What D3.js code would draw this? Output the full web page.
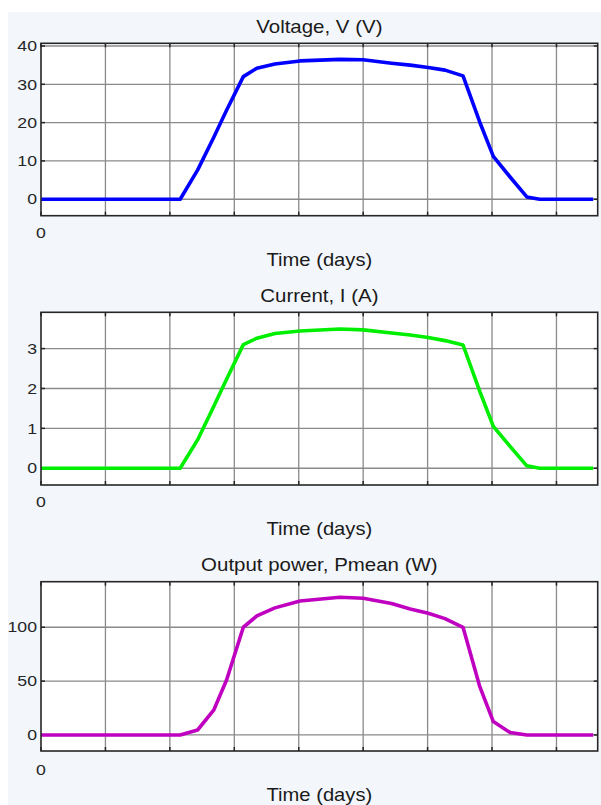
<!DOCTYPE html>
<html>
<head>
<meta charset="utf-8">
<script src="https://cdn.jsdelivr.net/npm/d3@7"></script>
<style>
  html, body { margin: 0; padding: 0; background: #ffffff; }
  svg { display: block; font-family: "Liberation Sans", Arial, sans-serif; }
</style>
</head>
<body>
<svg id="chart" width="601" height="805"></svg>
<script>
'use strict';

// time in seconds over one day
var timeSec = [0, 21600, 24300, 26800, 28800, 31400, 33500, 36300, 40200, 46400, 50000,
               54400, 57300, 60100, 62700, 65500, 68100, 70200, 72800, 75400, 77400, 85700];

var voltage = [0, 0, 7.6, 16.1, 23.2, 32, 34.2, 35.3, 36.1, 36.5, 36.4,
               35.5, 35.0, 34.4, 33.7, 32.2, 20.1, 11.2, 5.8, 0.6, 0, 0];

var current = [0, 0, 0.71, 1.55, 2.23, 3.1, 3.26, 3.38, 3.44, 3.49, 3.47,
               3.39, 3.34, 3.28, 3.2, 3.09, 1.93, 1.05, 0.55, 0.06, 0, 0];

var power = [0, 0, 4.6, 23, 51, 100, 110.5, 118, 124.4, 127.8, 126.9,
             122, 117, 113, 108, 100, 44.8, 12.4, 2.2, 0, 0, 0];

var titles = ['Voltage, V (V)', 'Current, I (A)', 'Output power, Pmean (W)'];
var xLabel = 'Time (days)';
var xTicks = [0, 10000, 20000, 30000, 40000, 50000, 60000, 70000, 80000];
var yTicksV = [0, 10, 20, 30, 40];
var yTicksI = [0, 1, 2, 3];
var yTicksP = [0, 50, 100];

var svg = d3.select('#chart');

svg.append('rect')
    .attr('x', 8).attr('y', 12)
    .attr('width', 601 - 8).attr('height', 805 - 12)
    .attr('fill', '#f3f6fb');

var left = 41, right = 597.7;

var x = d3.scaleLinear().domain([0, 86400]).range([left, right]);

// the source picture is a little wider than tall, so text is stretched sideways
var stretchText = function(sel, px, py, sx) {
  return sel.attr('transform', 'translate(' + px + ',' + py + ') scale(' + sx + ',1)');
};

var panels = [
  {values: voltage, yTicks: yTicksV, domain: [-4.3, 40.7], top: 43.3, bottom: 215.7,
   color: '#0000ff', title: titles[0], titleY: 32.5, zeroY: 238, labelY: 266},
  {values: current, yTicks: yTicksI, domain: [-0.42, 3.91], top: 312.3, bottom: 485,
   color: '#00ee00', title: titles[1], titleY: 302, zeroY: 507, labelY: 535},
  {values: power, yTicks: yTicksP, domain: [-14.9, 142.3], top: 581.7, bottom: 751,
   color: '#c000c0', title: titles[2], titleY: 571, zeroY: 775, labelY: 801}
];

panels.forEach(function(p) {
  var y = d3.scaleLinear().domain(p.domain).range([p.bottom, p.top]);
  var g = svg.append('g');

  g.append('rect')
      .attr('x', left).attr('y', p.top)
      .attr('width', right - left).attr('height', p.bottom - p.top)
      .attr('fill', '#ffffff');

  // grid
  g.selectAll('.vgrid').data(xTicks.slice(1)).enter().append('line')
      .attr('x1', function(d) { return x(d); }).attr('x2', function(d) { return x(d); })
      .attr('y1', p.top).attr('y2', p.bottom)
      .attr('stroke', '#8a8a8a').attr('stroke-width', 1.3);
  g.selectAll('.hgrid').data(p.yTicks).enter().append('line')
      .attr('x1', left).attr('x2', right)
      .attr('y1', function(d) { return y(d); }).attr('y2', function(d) { return y(d); })
      .attr('stroke', '#8a8a8a').attr('stroke-width', 1.3);

  // inward tick marks
  var tl = 4;
  xTicks.forEach(function(t) {
    g.append('line').attr('x1', x(t)).attr('x2', x(t)).attr('y1', p.bottom).attr('y2', p.bottom - tl)
        .attr('stroke', '#262626').attr('stroke-width', 1.5);
    g.append('line').attr('x1', x(t)).attr('x2', x(t)).attr('y1', p.top).attr('y2', p.top + tl)
        .attr('stroke', '#262626').attr('stroke-width', 1.5);
  });
  p.yTicks.forEach(function(t) {
    g.append('line').attr('x1', left).attr('x2', left + tl).attr('y1', y(t)).attr('y2', y(t))
        .attr('stroke', '#262626').attr('stroke-width', 1.5);
    g.append('line').attr('x1', right).attr('x2', right - tl).attr('y1', y(t)).attr('y2', y(t))
        .attr('stroke', '#262626').attr('stroke-width', 1.5);
  });

  // axis labels
  g.selectAll('.ylab').data(p.yTicks).enter().append('text')
      .each(function(d) { stretchText(d3.select(this), left - 4, y(d), 1.22); })
      .attr('dy', '0.36em')
      .attr('text-anchor', 'end')
      .attr('font-size', 14.5)
      .attr('fill', '#262626')
      .text(function(d) { return d; });

  stretchText(g.append('text'), left, p.zeroY, 1.22)
      .attr('text-anchor', 'middle')
      .attr('font-size', 14.5)
      .attr('fill', '#262626')
      .text(xTicks[0]);

  stretchText(g.append('text'), (left + right) / 2, p.labelY, 1.12)
      .attr('text-anchor', 'middle')
      .attr('font-size', 18)
      .attr('fill', '#1a1a1a')
      .text(xLabel);

  stretchText(g.append('text'), (left + right) / 2, p.titleY, 1.17)
      .attr('text-anchor', 'middle')
      .attr('font-size', 17.5)
      .attr('fill', '#1a1a1a')
      .text(p.title);

  // data line
  var line = d3.line()
      .x(function(d, i) { return x(timeSec[i]); })
      .y(function(d) { return y(d); });

  g.append('path')
      .datum(p.values)
      .attr('d', line)
      .attr('fill', 'none')
      .attr('stroke', p.color)
      .attr('stroke-width', 3.6)
      .attr('stroke-linejoin', 'round')
      .attr('stroke-linecap', 'butt');

  // frame
  g.append('rect')
      .attr('x', left).attr('y', p.top)
      .attr('width', right - left).attr('height', p.bottom - p.top)
      .attr('fill', 'none')
      .attr('stroke', '#262626')
      .attr('stroke-width', 1.6);
});
</script>
</body>
</html>
